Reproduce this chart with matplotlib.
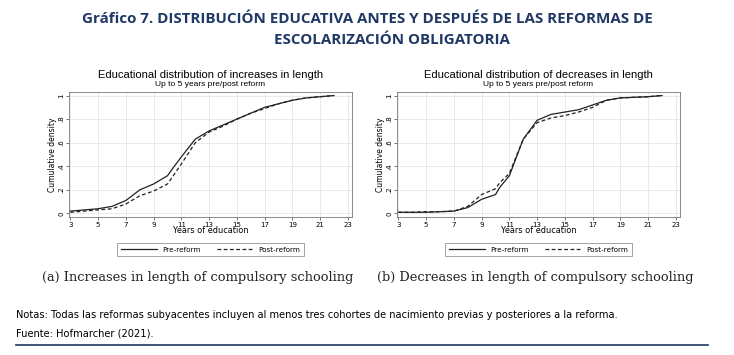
import matplotlib.pyplot as plt

years = [3, 4, 5, 6, 7, 8, 9, 10, 10.3, 11, 12, 13, 14, 15, 16, 17, 18, 19, 20, 21, 22]

inc_pre = [0.02, 0.03, 0.04, 0.06, 0.11, 0.20, 0.25, 0.32, 0.37, 0.48, 0.63, 0.70, 0.75, 0.80, 0.85, 0.90, 0.93, 0.96, 0.98, 0.99, 1.0]
inc_post = [0.01, 0.02, 0.03, 0.04, 0.08, 0.15, 0.19, 0.25, 0.30, 0.42, 0.60, 0.69, 0.74, 0.80, 0.85, 0.89, 0.93, 0.96, 0.98, 0.99, 1.0]

dec_pre = [0.01, 0.01, 0.01, 0.015, 0.02, 0.05, 0.12, 0.16, 0.22, 0.32, 0.63, 0.79, 0.84, 0.86, 0.88, 0.92, 0.96, 0.98, 0.985, 0.99, 1.0]
dec_post = [0.01, 0.01, 0.015, 0.015, 0.02, 0.06, 0.16, 0.21, 0.26, 0.34, 0.63, 0.77, 0.81, 0.83, 0.86, 0.90, 0.96, 0.98, 0.985, 0.99, 1.0]

xticks = list(range(3, 24, 2))
yticks = [0, 0.2, 0.4, 0.6, 0.8, 1.0]
ylabels = ['0', '.2', '.4', '.6', '.8', '1']

titles = ['Educational distribution of increases in length',
          'Educational distribution of decreases in length']
captions = ['(a) Increases in length of compulsory schooling',
            '(b) Decreases in length of compulsory schooling']

navy = '#1f3864'
fig = plt.figure(figsize=(7.34, 3.55), dpi=100)

fig.text(82 / 734, 1 - 19 / 355, 'Gráfico 7. DISTRIBUCIÓN EDUCATIVA ANTES Y DESPUÉS DE LAS REFORMAS DE',
         ha='left', va='center', fontsize=10.9, fontweight='bold', color=navy, family='Open Sans')
fig.text(274 / 734, 1 - 40 / 355, 'ESCOLARIZACIÓN OBLIGATORIA',
         ha='left', va='center', fontsize=10.9, fontweight='bold', color=navy, family='Open Sans')

panels = [(69, 352, 198, inc_pre, inc_post), (397, 680, 535, dec_pre, dec_post)]
for i, (x0, x1, cx, pre, post) in enumerate(panels):
    ax = fig.add_axes([x0 / 734, 1 - 217 / 355, (x1 - x0) / 734, 125 / 355])
    ax.plot(years, pre, color='#222222', lw=0.9, label='Pre-reform')
    ax.plot(years, post, color='#222222', lw=0.9, ls=(0, (3, 2)), label='Post-reform')
    ax.set_xlim(2.9, 23.3)
    ax.set_ylim(-0.03, 1.03)
    ax.set_xticks(xticks)
    ax.set_yticks(yticks)
    ax.set_yticklabels(ylabels, rotation=90, va='center')
    ax.tick_params(labelsize=5, length=2, width=0.5, pad=1.5, color='#444444')
    ax.grid(True, color='#e6e6e6', lw=0.6)
    ax.set_axisbelow(True)
    for s in ax.spines.values():
        s.set_color('#777777')
        s.set_linewidth(0.6)
    ax.set_xlabel('Years of education', fontsize=5.9, labelpad=-1)
    ax.set_ylabel('Cumulative density', fontsize=5.5, labelpad=1)
    ax.set_title(titles[i], fontsize=8, pad=10, family='Liberation Sans')
    ax.text(0.5, 1.03, 'Up to 5 years pre/post reform', transform=ax.transAxes,
            ha='center', va='bottom', fontsize=6, family='Liberation Sans')
    leg = ax.legend(loc='upper center', bbox_to_anchor=(0.5, -0.18), ncol=2, fontsize=5.2,
                    fancybox=False, edgecolor='#777777', handlelength=5, columnspacing=2.2,
                    borderpad=0.5)
    leg.get_frame().set_linewidth(0.6)
    fig.text(cx / 734, 1 - 277 / 355, captions[i], ha='center', va='center',
             fontsize=9.4, family='DejaVu Serif', color='#222222')

fig.text(16 / 734, 1 - 315 / 355,
         'Notas: Todas las reformas subyacentes incluyen al menos tres cohortes de nacimiento previas y posteriores a la reforma.',
         ha='left', va='center', fontsize=7.1, family='Liberation Sans Narrow')
fig.text(16 / 734, 1 - 333 / 355, 'Fuente: Hofmarcher (2021).',
         ha='left', va='center', fontsize=7.1, family='Liberation Sans Narrow')
fig.add_artist(plt.Line2D([16 / 734, 708 / 734], [1 - 345 / 355] * 2, color=navy, lw=1.2))

fig.savefig('out.png', dpi=100)
